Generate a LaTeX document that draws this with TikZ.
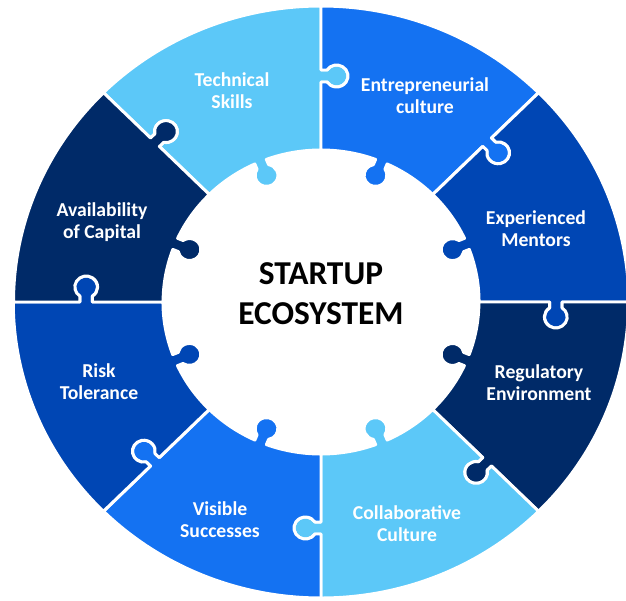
\documentclass[tikz,border=0pt]{standalone}
\usepackage{fontspec}
\setmainfont{Carlito}
\definecolor{skyblue}{HTML}{5CC8F8}
\definecolor{brightblue}{HTML}{1472F2}
\definecolor{midblue}{HTML}{0046B4}
\definecolor{navyblue}{HTML}{002A68}
\tikzset{
  piece/.style={draw=white, line width=1.7pt, line join=round},
  pietext/.style={text=white, font=\bfseries\fontsize{11.2}{12.5}\selectfont, align=center},
  hubtext/.style={text=black, font=\bfseries\fontsize{19}{22.7}\selectfont, align=center}
}
% one puzzle piece: #1 start angle, #2 colour
\newcommand{\puzzlepiece}[2]{%
  \begin{scope}[rotate=#1]
    \filldraw[piece, fill=#2] (152,0) -- (220,0) -- (220,-5.78)
      arc[start angle=123.06, end angle=416.94, radius=11] -- (232,0) -- (296,0)
      arc[start angle=0, end angle=45, radius=296]
      -- ([rotate=45]232,0) -- ([rotate=45]232,-5.78)
      arc[start angle=101.94, end angle=-191.94, radius=11]
      -- ([rotate=45]220,0) -- ([rotate=45]152,0)
      arc[start angle=45, end angle=24.762, radius=152]
      -- ([rotate=22.5]146.22,6)
      arc[start angle=55.56, end angle=349.44, radius=11]
      -- ([rotate=22.5]151.88,-6)
      arc[start angle=20.238, end angle=0, radius=152] -- cycle;
  \end{scope}}
\begin{document}
\begin{tikzpicture}[scale=0.02]
\useasboundingbox (-321,-298) rectangle (305,302);
\clip (-321,-298) rectangle (305,302);
\begin{scope}[xscale=1.04]
\puzzlepiece{90}{skyblue}
\puzzlepiece{45}{brightblue}
\puzzlepiece{0}{midblue}
\puzzlepiece{-45}{navyblue}
\puzzlepiece{-90}{skyblue}
\puzzlepiece{-135}{brightblue}
\puzzlepiece{180}{midblue}
\puzzlepiece{135}{navyblue}
\end{scope}
\node[pietext] (technical) at (-89,211) {Technical\\Skills};
\node[pietext] (entrepreneurial) at (104,206) {Entrepreneurial\\culture};
\node[pietext] (mentors) at (215,73) {Experienced\\Mentors};
\node[pietext] (regulatory) at (218,-81) {Regulatory\\Environment};
\node[pietext] (collaborative) at (86,-222) {Collaborative\\Culture};
\node[pietext] (visible) at (-101,-218) {Visible\\Successes};
\node[pietext] (risk) at (-222,-80) {Risk\\Tolerance};
\node[pietext] (capital) at (-219,80) {Availability\\of Capital};
\node[hubtext] (hub) at (0,8) {STARTUP\\ECOSYSTEM};
\end{tikzpicture}
\end{document}
